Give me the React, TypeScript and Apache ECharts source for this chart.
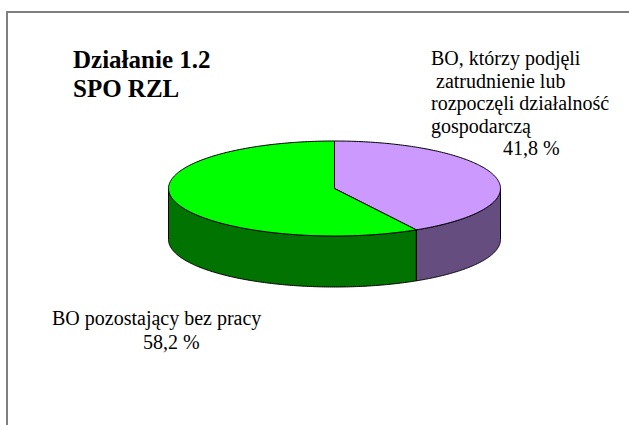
import React, { useEffect, useRef } from "react";
import * as echarts from "echarts";

const categories = ["BO, którzy podjęli zatrudnienie lub rozpoczęli działalność gospodarczą", "BO pozostający bez pracy"];
const values = [41.8, 58.2];
const topColors = ["#CC99FF", "#00FF00"];
const sideColors = ["#664D80", "#007300"];
const titleLines = ["Działanie 1.2", "SPO RZL"];
const label1Lines = ["BO, którzy podjęli", " zatrudnienie lub", "rozpoczęli działalność", "gospodarczą"];
const label2Lines = ["BO pozostający bez pracy"];
const valueLabels = ["41,8 %", "58,2 %"];

const CX = 334.5, CY = 188.5, RX = 166, RY = 47.5, DEPTH = 51;
const FONT = '"Liberation Serif", "Times New Roman", serif';
const total = values.reduce((a, b) => a + b, 0);

function pt(a: number, dy = 0): number[] {
  return [CX + RX * Math.sin(a), CY - RY * Math.cos(a) + dy];
}

function renderSlice(params: any, api: any) {
  const i = params.dataIndex;
  const before = values.slice(0, i).reduce((a, b) => a + b, 0);
  const a0 = (before / total) * Math.PI * 2;
  const a1 = ((before + api.value(0)) / total) * Math.PI * 2;
  const N = 180;
  const top: number[][] = [[CX, CY]];
  for (let k = 0; k <= N; k++) top.push(pt(a0 + ((a1 - a0) * k) / N));
  // The visible wall is the part of the slice on the front half of the ellipse.
  const s0 = Math.max(a0, Math.PI / 2);
  const s1 = Math.min(a1, (Math.PI * 3) / 2);
  const wall: number[][] = [];
  for (let k = 0; k <= N; k++) wall.push(pt(s0 + ((s1 - s0) * k) / N));
  for (let k = N; k >= 0; k--) wall.push(pt(s0 + ((s1 - s0) * k) / N, DEPTH));
  const lineStyle = { stroke: "#000", lineWidth: 1, lineJoin: "round" };
  return {
    type: "group",
    children: [
      { type: "polygon", shape: { points: wall }, style: { fill: sideColors[i], ...lineStyle } },
      { type: "polygon", shape: { points: top }, style: { fill: topColors[i], ...lineStyle } },
    ],
  };
}

function textLines(lines: string[], x: number, y: number, lh: number, size = 20, weight = "normal") {
  return lines.map((t, k) => ({
    type: "text",
    x,
    y: y + k * lh,
    style: { text: t, font: `${weight} ${size}px ${FONT}`, fill: "#000", textVerticalAlign: "middle" },
    silent: true,
  }));
}

export default function App() {
  const ref = useRef<HTMLDivElement>(null);
  useEffect(() => {
    const chart = echarts.init(ref.current!, undefined, { renderer: "svg" });
    chart.setOption({
      animation: false,
      backgroundColor: "#fff",
      series: [
        {
          type: "custom",
          coordinateSystem: "none",
          silent: true,
          clip: false,
          data: values.map((v, i) => ({ name: categories[i], value: [v] })),
          renderItem: renderSlice,
        },
      ],
      graphic: [
        {
          type: "polyline",
          shape: { points: [[7, 425], [7, 12], [629, 12]] },
          style: { stroke: "#808080", lineWidth: 2, fill: "none" },
          silent: true,
        },
        ...textLines(titleLines, 73, 59, 29, 25, "bold"),
        ...textLines(label1Lines, 431, 58, 22.5),
        ...textLines([valueLabels[0]], 503, 148, 22.5),
        ...textLines(label2Lines, 52, 318, 22.5),
        ...textLines([valueLabels[1]], 143, 342, 22.5),
      ],
    });
    return () => chart.dispose();
  }, []);
  return <div ref={ref} style={{ position: "fixed", left: 0, top: 0, width: 629, height: 425 }} />;
}
